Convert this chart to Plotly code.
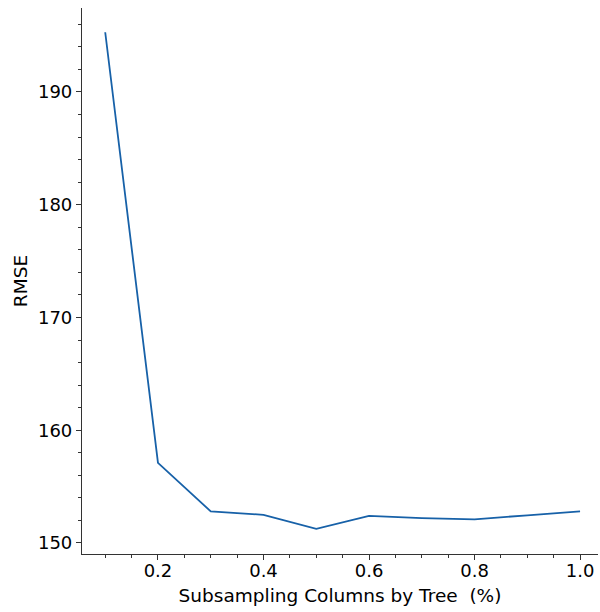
import plotly.graph_objects as go

colsample = [0.1, 0.2, 0.3, 0.4, 0.5, 0.6, 0.7, 0.8, 0.9, 1.0]
rmse = [195.3, 157.1, 152.8, 152.5, 151.25, 152.4, 152.2, 152.1, 152.45, 152.8]
xtick_vals = [0.2, 0.4, 0.6, 0.8, 1.0]
xtick_text = ["0.2", "0.4", "0.6", "0.8", "1.0"]
ytick_vals = [150, 160, 170, 180, 190]

FONT = dict(family="DejaVu Sans", size=18.5, color="black")
TFONT = dict(family="DejaVu Sans", size=18, color="black")

fig = go.Figure()
fig.add_trace(go.Scatter(x=colsample, y=rmse, mode="lines",
                         line=dict(color="#1761a8", width=1.8), showlegend=False))

axis_common = dict(showline=True, linecolor="#333333", linewidth=1.2, showgrid=False,
                   zeroline=False, ticks="outside", tickcolor="#333333", ticklen=5,
                   tickwidth=1, tickfont=TFONT, mirror=False)

fig.update_xaxes(range=[0.056, 1.034], tickvals=xtick_vals, ticktext=xtick_text,
                 ticklabelstandoff=-5,
                 minor=dict(dtick=0.05, tick0=0, ticks="outside", ticklen=3, tickcolor="#333333"),
                 title=dict(text="Subsampling Columns by Tree\u00a0\u00a0(%)", font=FONT, standoff=9),
                 **axis_common)
fig.update_yaxes(range=[149.02, 197.45], tickvals=ytick_vals,
                 minor=dict(dtick=2, tick0=0, ticks="outside", ticklen=3, tickcolor="#333333"),
                 title=dict(text="RMSE", font=FONT, standoff=5),
                 **axis_common)

fig.update_layout(width=600, height=612, plot_bgcolor="white", paper_bgcolor="white",
                  margin=dict(l=82, r=2, t=8, b=58))
fig.write_html("out.html")
